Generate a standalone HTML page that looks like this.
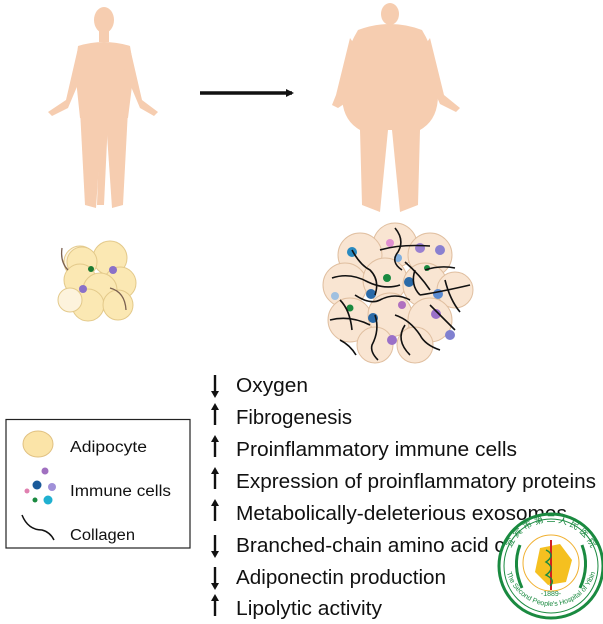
<!DOCTYPE html>
<html><head><meta charset="utf-8"><style>
html,body{margin:0;padding:0;background:#fff;}
svg{display:block;}
text{font-family:"Liberation Sans","Noto Sans CJK SC",sans-serif;}
</style></head><body>
<svg width="603" height="624" viewBox="0 0 603 624" xmlns="http://www.w3.org/2000/svg">
<defs>
<marker id="ah" markerWidth="8" markerHeight="8" refX="6" refY="4" orient="auto" markerUnits="userSpaceOnUse"><path d="M0,0 L8,4 L0,8 z" fill="#111"/></marker>
<path id="arcTop" d="M507,566 A44,44 0 0 1 595,566"/>
<path id="arcBot" d="M505,560 A46,46 0 0 0 597,560"/>
</defs>
<!-- thin human -->
<g fill="#f6cdb0">
<ellipse cx="104" cy="20" rx="10" ry="13"/>
<rect x="99" y="30" width="10" height="12"/>
<path d="M78,46 Q104,38 130,46 L134,70 L128,118 L108,120 L104,205 L97,205 L100,120 L80,118 L75,70 Z"/>
<path d="M80,110 L85,205 L96,208 L102,120 Z"/>
<path d="M128,110 L123,205 L112,208 L106,120 Z"/>
<path d="M78,48 L66,100 L48,112 L52,116 L68,108 L84,70 Z"/>
<path d="M130,48 L142,100 L158,112 L154,116 L140,108 L124,70 Z"/>
</g>
<!-- arrow -->
<line x1="200" y1="93" x2="292" y2="93" stroke="#111" stroke-width="3.5" marker-end="url(#ah)"/>
<!-- obese human -->
<g fill="#f6cdb0">
<ellipse cx="390" cy="14" rx="9" ry="11"/>
<path d="M358,30 Q390,18 422,30 Q440,60 438,95 Q438,120 420,130 L418,205 L400,212 L392,130 L388,130 L380,212 L362,205 L360,130 Q342,120 342,95 Q340,60 358,30 Z"/>
<path d="M350,38 L336,95 L332,105 L338,108 L350,100 L362,55 Z"/>
<path d="M430,38 L444,95 L460,108 L456,112 L440,104 L418,55 Z"/>
</g>
<!-- small cluster -->
<g stroke="#e3c98a" stroke-width="1" fill="#fbe8b3">
<circle cx="80" cy="262" r="16" fill="#fdf3dc"/>
<circle cx="110" cy="258" r="17"/>
<circle cx="82" cy="262" r="15"/>
<circle cx="120" cy="283" r="16"/>
<circle cx="80" cy="280" r="16"/>
<circle cx="100" cy="290" r="17"/>
<circle cx="88" cy="305" r="16"/>
<circle cx="118" cy="305" r="15"/>
<circle cx="70" cy="300" r="12" fill="#fdf3dc"/>
</g>
<circle cx="91" cy="269" r="3" fill="#1a7a30"/>
<circle cx="113" cy="270" r="4" fill="#8a70c8"/>
<circle cx="83" cy="289" r="4" fill="#8a70c8"/>
<path d="M62,248 Q60,262 68,270" stroke="#7a6050" stroke-width="1.3" fill="none"/>
<path d="M110,288 Q125,292 126,310" stroke="#7a6050" stroke-width="1.3" fill="none"/>
<!-- big cluster -->
<g stroke="#e0bfa0" stroke-width="1" fill="#f9e5d2">
<circle cx="395" cy="245" r="22"/><circle cx="360" cy="255" r="22"/><circle cx="430" cy="255" r="22"/>
<circle cx="345" cy="285" r="22"/><circle cx="385" cy="280" r="22"/><circle cx="425" cy="285" r="22"/><circle cx="455" cy="290" r="18"/>
<circle cx="350" cy="320" r="22"/><circle cx="390" cy="315" r="22"/><circle cx="430" cy="320" r="22"/>
<circle cx="375" cy="345" r="18"/><circle cx="415" cy="345" r="18"/>
</g>
<g>
<circle cx="352" cy="252" r="5" fill="#2a8ac0"/><circle cx="371" cy="294" r="5" fill="#2a6aa8"/><circle cx="409" cy="282" r="5" fill="#2a6aa8"/>
<circle cx="373" cy="318" r="5" fill="#2a6aa8"/><circle cx="438" cy="294" r="5" fill="#5a8ad0"/><circle cx="387" cy="278" r="4" fill="#1a8a40"/>
<circle cx="350" cy="308" r="3.5" fill="#1a8a40"/><circle cx="427" cy="268" r="3" fill="#1a8a40"/><circle cx="420" cy="248" r="5" fill="#9a80d0"/>
<circle cx="440" cy="250" r="5" fill="#8a80d0"/><circle cx="436" cy="314" r="5" fill="#9a70c8"/><circle cx="392" cy="340" r="5" fill="#9a70c8"/>
<circle cx="390" cy="243" r="4" fill="#e090d0"/><circle cx="398" cy="258" r="4" fill="#80b0e0"/><circle cx="450" cy="335" r="5" fill="#8080d0"/>
<circle cx="335" cy="296" r="4" fill="#a0c0e0"/><circle cx="402" cy="305" r="4" fill="#b070c0"/>
</g>
<g stroke="#111" stroke-width="1.6" fill="none">
<path d="M395,228 Q405,240 398,252 Q390,262 402,270"/>
<path d="M380,250 Q400,244 430,246"/>
<path d="M352,250 Q360,265 370,270 Q380,280 375,295"/>
<path d="M332,278 Q350,272 368,282 Q385,290 400,285"/>
<path d="M405,262 Q420,275 430,290"/>
<path d="M425,270 Q440,265 455,268"/>
<path d="M420,295 Q440,292 470,285"/>
<path d="M445,280 Q450,300 460,312"/>
<path d="M340,300 Q350,310 352,330"/>
<path d="M355,295 Q370,305 380,300 Q395,292 410,300"/>
<path d="M330,320 Q350,315 370,325"/>
<path d="M375,315 Q380,330 372,345 Q370,352 378,360"/>
<path d="M395,315 Q410,320 420,335 Q425,345 440,350"/>
<path d="M405,325 Q395,340 410,355"/>
<path d="M430,305 Q445,320 455,330"/>
<path d="M340,340 Q350,345 356,355"/>
<path d="M415,270 Q410,285 420,295"/>
</g>
<!-- legend -->
<rect x="6" y="419.5" width="184" height="128.5" fill="#fff" stroke="#222" stroke-width="1.2"/>
<ellipse cx="38" cy="444" rx="15" ry="13" fill="#fbe4a8" stroke="#e0c080"/>
<text x="70" y="452" font-size="15.5" fill="#111" textLength="77" lengthAdjust="spacingAndGlyphs">Adipocyte</text>
<circle cx="45" cy="471" r="3.5" fill="#a070c0"/>
<circle cx="37" cy="485" r="4.5" fill="#1a5a9a"/>
<circle cx="52" cy="487" r="4" fill="#a090d8"/>
<circle cx="27" cy="491" r="2.5" fill="#e080b0"/>
<circle cx="35" cy="500" r="2.5" fill="#1a8a40"/>
<circle cx="48" cy="500" r="4.5" fill="#20b0d0"/>
<text x="70" y="496" font-size="15.5" fill="#111" textLength="101" lengthAdjust="spacingAndGlyphs">Immune  cells</text>
<path d="M22,515 Q28,530 42,530 Q50,532 54,540" stroke="#111" stroke-width="1.5" fill="none"/>
<text x="70" y="540" font-size="15.5" fill="#111" textLength="65" lengthAdjust="spacingAndGlyphs">Collagen</text>
<!-- list -->
<g fill="#111">
<g font-size="20">
<text x="236" y="392" textLength="72" lengthAdjust="spacingAndGlyphs">Oxygen</text>
<text x="236" y="424" textLength="116" lengthAdjust="spacingAndGlyphs">Fibrogenesis</text>
<text x="236" y="456" textLength="281" lengthAdjust="spacingAndGlyphs">Proinflammatory  immune cells</text>
<text x="236" y="488" textLength="360" lengthAdjust="spacingAndGlyphs">Expression of proinflammatory  proteins</text>
<text x="236" y="520" textLength="331" lengthAdjust="spacingAndGlyphs">Metabolically-deleterious  exosomes</text>
<text x="236" y="552" textLength="358" lengthAdjust="spacingAndGlyphs">Branched-chain  amino acid catabolism</text>
<text x="236" y="584" textLength="210" lengthAdjust="spacingAndGlyphs">Adiponectin  production</text>
<text x="236" y="615" textLength="146" lengthAdjust="spacingAndGlyphs">Lipolytic activity</text>
</g>
<g stroke="#111" stroke-width="2.4">
<line x1="215" y1="375" x2="215" y2="392"/><line x1="215" y1="409" x2="215" y2="425"/>
<line x1="215" y1="441" x2="215" y2="457"/><line x1="215" y1="473" x2="215" y2="489"/>
<line x1="215" y1="505" x2="215" y2="521"/><line x1="215" y1="535" x2="215" y2="552"/>
<line x1="215" y1="567" x2="215" y2="584"/><line x1="215" y1="600" x2="215" y2="616"/>
</g>
<path d="M211,391 L219,391 L215,398 Z"/><path d="M211,410 L219,410 L215,403 Z"/>
<path d="M211,442 L219,442 L215,435 Z"/><path d="M211,474 L219,474 L215,467 Z"/>
<path d="M211,506 L219,506 L215,499 Z"/><path d="M211,551 L219,551 L215,558 Z"/>
<path d="M211,583 L219,583 L215,590 Z"/><path d="M211,601 L219,601 L215,594 Z"/>
</g>
<!-- logo -->
<g>
<circle cx="551" cy="566" r="52" fill="#fff" stroke="#1a8a40" stroke-width="3"/>
<circle cx="551" cy="566" r="47" fill="none" stroke="#1a8a40" stroke-width="1"/>
<circle cx="551" cy="563" r="28" fill="none" stroke="#f0b030" stroke-width="1"/>
<path d="M540,548 L560,544 L572,560 L566,582 L548,585 L535,572 Z" fill="#f5c020"/>
<line x1="551" y1="540" x2="551" y2="590" stroke="#d02020" stroke-width="2"/>
<path d="M546,550 Q556,555 546,562 Q556,568 546,575 Q556,580 550,586" stroke="#1a8a40" stroke-width="1.5" fill="none"/>
<path d="M520,545 Q512,566 522,588" stroke="#1a8a40" stroke-width="3" fill="none"/>
<path d="M582,545 Q590,566 580,588" stroke="#1a8a40" stroke-width="3" fill="none"/>
<text x="551" y="596" font-size="7" fill="#1a8a40" text-anchor="middle">-1889-</text>
<text font-size="9" fill="#1a8a40"><textPath href="#arcTop" startOffset="50%" text-anchor="middle">宜 宾 市 第 二 人 民 医 院</textPath></text>
<text font-size="7" fill="#1a8a40"><textPath href="#arcBot" startOffset="50%" text-anchor="middle">The Second People's Hospital of Yibin</textPath></text>
</g>
</svg>
</body></html>
